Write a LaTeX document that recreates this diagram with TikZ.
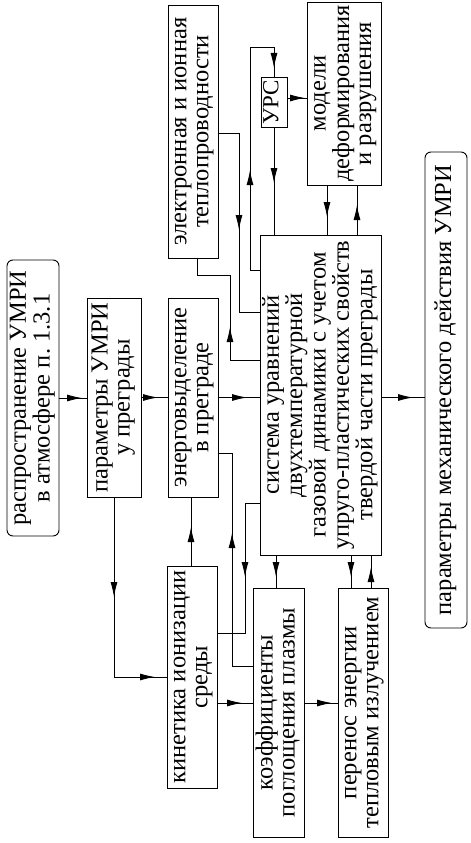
\documentclass[tikz,border=0pt]{standalone}
\usepackage{fontspec}
\setmainfont{Liberation Serif}
\usetikzlibrary{arrows.meta}
\tikzset{
  box/.style={draw, line width=0.9pt, inner sep=0pt, font=\fontsize{24.5}{22}\selectfont},
  rbox/.style={box, rounded corners=6pt},
  link/.style={line width=0.9pt},
  tipto/.style={-{Latex[length=15pt,width=7pt]}, line width=0.9pt},
}
\newcommand\vtext[1]{\rotatebox{90}{\setlength\tabcolsep{0pt}\begin{tabular}{c}#1\end{tabular}}}
\newcommand\tipR[2]{\draw[tipto] (#1-16,#2) -- (#1,#2);}
\newcommand\tipD[2]{\draw[tipto] (#1,#2-16) -- (#1,#2);}
\newcommand\tipU[2]{\draw[tipto] (#1,#2+16) -- (#1,#2);}
\begin{document}
\begin{tikzpicture}[x=1pt,y=-1pt]
\useasboundingbox (0,0) rectangle (471,843);
% boxes
\node[rbox,minimum width=52pt,minimum height=276pt] (B1) at (33,398) {\vtext{распространение УМРИ\\в атмосфере п.~1.3.1}};
\node[box,minimum width=54pt,minimum height=199pt] (B2) at (114,397.5) {\vtext{параметры УМРИ\\у преграды}};
\node[box,minimum width=50pt,minimum height=199pt] (B3) at (193,397.5) {\vtext{энерговыделение\\в преграде}};
\node[box,minimum width=50pt,minimum height=253pt] (B4) at (193,131.5) {\vtext{электронная и ионная\\теплопроводности}};
\node[box,minimum width=26pt,minimum height=50pt,font=\fontsize{23}{22}\selectfont] (B5) at (274,102) {\vtext{УРС}};
\node[box,minimum width=74pt,minimum height=183pt] (B6) at (344,93.5) {\vtext{модели\\деформирования\\и разрушения}};
\node[box,minimum width=121pt,minimum height=320pt] (B7) at (320.5,395) {\vtext{система уравнений\\двухтемпературной\\газовой динамики с учетом\\упруго-пластических свойств\\твердой части преграды}};
\node[rbox,minimum width=42pt,minimum height=476pt] (B8) at (446,390) {\vtext{параметры механического действия УМРИ}};
\node[box,minimum width=50pt,minimum height=222pt] (B9) at (192,677) {\vtext{кинетика ионизации\\среды}};
\node[box,minimum width=51pt,minimum height=249pt] (B10) at (278.5,712.5) {\vtext{коэффициенты\\поглощения плазмы}};
\node[box,minimum width=50pt,minimum height=249pt] (B11) at (363,712.5) {\vtext{перенос энергии\\тепловым излучением}};
% connectors
\draw[link] (B1.east) -- (B1.east -| B2.west); \tipR{82}{398}
\draw[link] (B2.east) -- (B2.east -| B3.west); \tipR{158}{397.5}
\draw[link] (B3.east) -- (B3.east -| B7.west); \tipR{247}{397.5}
\draw[link] (B7.east |- B3.east) -- (B8.west |- B3.east); \tipR{413}{397.5}
\draw[link] (B2.south) |- (B9.west); \tipD{114}{597} \tipR{155}{677}
\draw[link] (B4.east |- 0,133) -- (239,133) -- (239,312) -- (B7.west |- 0,312); \tipD{239}{230}
\draw[link] (B7.west |- 0,360) -- (230,360) -- (230,275) -- (197,275) -- (B4.south -| 197,0); \tipU{230}{327}
\draw[link] (B7.west |- 0,270) -- (250,270) -- (250,47) -- (274,47) -- (B5.north); \tipU{250}{170} \tipD{274}{68}
\draw[link] (B5.east |- 0,98) -- (B6.west |- 0,98); \tipR{305}{98}
\draw[link] (B5.south) -- (B5.south |- B7.north); \tipD{274}{183}
\draw[link] (B6.south -| 327,0) -- (B7.north -| 327,0); \tipD{327}{217}
\draw[link] (B7.north -| 357,0) -- (B6.south -| 357,0); \tipU{357}{205}
\draw[link] (B9.north -| 191,0) -- (B3.south -| 191,0); \tipU{191}{527}
\draw[link] (B10.west |- 0,666) -- (232,666) -- (232,453) -- (B3.east |- 0,453); \tipU{232}{533}
\draw[link] (B7.west |- 0,503) -- (245,503) -- (245,633) -- (B9.east |- 0,633); \tipD{245}{577}
\draw[link] (B7.south -| 276,0) -- (B10.north -| 276,0); \tipD{276}{577}
\draw[link] (B9.east |- 0,703) -- (B10.west |- 0,703); \tipR{242}{703}
\draw[link] (B10.east |- 0,703) -- (B11.west |- 0,703); \tipR{332}{703}
\draw[link] (B7.south -| 351,0) -- (B11.north -| 351,0); \tipD{351}{577}
\draw[link] (B11.north -| 371,0) -- (B7.south -| 371,0); \tipU{371}{567}
\end{tikzpicture}
\end{document}
